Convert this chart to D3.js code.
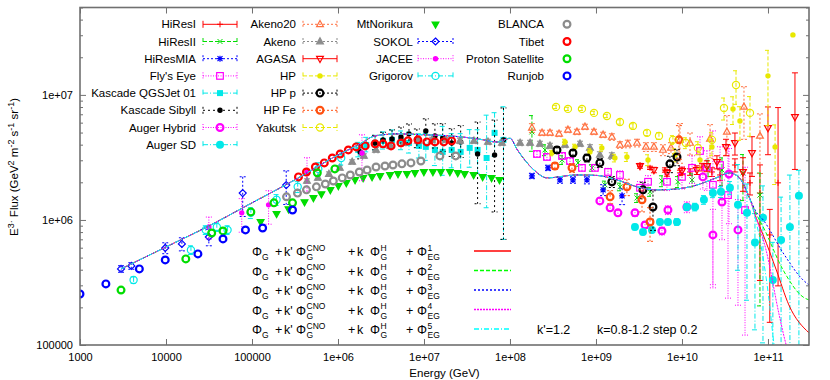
<!DOCTYPE html>
<html>
<head>
<meta charset="utf-8">
<script src="https://cdn.jsdelivr.net/npm/d3@7"></script>
<style>
body{margin:0;background:#fff;}
text{font-family:"Liberation Sans",Arial,Helvetica,sans-serif;fill:#000;}
</style>
</head>
<body>
<div id="chart"></div>
<script>
// axis ticks
const xTicks = [1e3, 1e4, 1e5, 1e6, 1e7, 1e8, 1e9, 1e10, 1e11];
const xTickLabels = ["1000", "10000", "100000", "1e+06", "1e+07", "1e+08", "1e+09", "1e+10", "1e+11"];
const yTicks = [1e5, 1e6, 1e7];
const yTickLabels = ["100000", "1e+06", "1e+07"];

// ---- experimental data (E in GeV, E^3 flux) ----
const hiresIEnergy = [3.25e9, 4.25e9, 6.34e9, 9.48e9, 1.24e10, 1.71e10, 2.23e10, 2.77e10, 4.13e10, 6.18e10, 8.07e10, 1.05e11, 1.31e11];
const hiresIFlux = [2.75e6, 2.61e6, 2.51e6, 2.38e6, 2.42e6, 2.65e6, 2.42e6, 2.29e6, 2.75e6, 1.98e6, 1.64e6, 7.59e5, 1.98e6];
const hiresIUp = [.03, .03, .04, .05, .06, .07, .08, .1, .12, .2, .68, .6, 3.0];
const hiresIDn = [.03, .03, .04, .05, .06, .07, .08, .1, .12, .2, .8, .8, .85];

const hiresIIEnergy = [1.80e8, 2.55e8, 4.03e8, 6.18e8, 8.98e8, 1.27e9, 1.90e9, 3.00e9, 4.25e9, 5.85e9, 8.98e9, 1.31e10, 2.01e10, 2.92e10, 5.12e10, 8.07e10];
const hiresIIFlux = [5.06e6, 3.63e6, 3.02e6, 2.86e6, 2.61e6, 1.91e6, 1.84e6, 1.50e6, 1.68e6, 2.05e6, 2.02e6, 2.09e6, 2.61e6, 2.51e6, 2.38e6, 1.58e6];
const hiresIIUp = [.35, .1, .08, .06, .06, .07, .07, .08, .08, .1, .1, .12, .15, .25, .4, .5];
const hiresIIDn = [.3, .1, .08, .06, .06, .07, .07, .08, .08, .1, .1, .12, .15, .25, .4, .87];

const hiresMiaEnergy = [1.80e8, 2.77e8, 3.81e8, 5.40e8, 7.85e8, 1.21e9, 2.01e9];
const hiresMiaFlux = [2.25e6, 2.61e6, 2.09e6, 2.09e6, 2.09e6, 1.74e6, 1.56e6];
const hiresMiaErr = [.05, .05, .06, .06, .07, .1, .15];

const flysEyeEnergy = [2.06e8, 2.69e8, 4.03e8, 4.99e8, 6.87e8, 9.73e8, 1.38e9, 1.90e9, 3.25e9, 4.03e9, 6.69e9, 1.0e10, 1.31e10, 1.62e10, 1.95e10, 2.29e10, 2.77e10, 3.43e10, 5.41e10];
const flysEyeFlux = [3.37e6, 3.19e6, 3.25e6, 2.96e6, 2.61e6, 2.61e6, 2.42e6, 2.29e6, 1.81e6, 2.02e6, 2.02e6, 2.21e6, 2.61e6, 3.56e6, 2.65e6, 1.91e6, 2.75e6, 1.58e6, 1.20e6];
const flysEyeUp = [.05, .05, .05, .05, .06, .06, .07, .08, .12, .12, .15, .2, .25, .3, .35, 1.7, .4, 1.5, 1.2];
const flysEyeDn = [.05, .05, .05, .05, .06, .06, .07, .08, .12, .12, .15, .2, .25, .3, .35, .85, .4, .85, .9];

const qgsjetEnergy = [1.72e6, 2.13e6, 2.70e6, 3.34e6, 4.25e6, 5.40e6, 6.69e6, 8.73e6, 1.05e7, 1.34e7, 1.65e7, 2.10e7, 2.67e7, 3.40e7, 4.2e7, 5.35e7, 6.62e7, 8.4e7];
const qgsjetFlux = [3.63e6, 3.98e6, 4.13e6, 4.29e6, 4.37e6, 4.29e6, 4.13e6, 3.91e6, 3.84e6, 3.63e6, 3.50e6, 3.63e6, 3.50e6, 3.77e6, 3.63e6, 3.13e6, 4.97e6, 4.37e6];
const qgsjetUp = [.15, .15, .15, .18, .2, .2, .22, .25, .28, .3, .6, .35, .4, .4, .45, 1.2, .45, .84];
const qgsjetDn = [.12, .12, .12, .14, .15, .15, .17, .2, .22, .25, .35, .28, .3, .3, .35, .6, .35, .84];

const sibyllEnergy = [1.81e6, 2.70e6, 3.34e6, 4.25e6, 5.40e6, 6.69e6, 8.27e6, 1.05e7, 1.34e7, 1.65e7, 2.10e7, 2.67e7, 4.2e7, 6.62e7, 8.4e7];
const sibyllFlux = [3.50e6, 4.13e6, 4.37e6, 4.45e6, 4.61e6, 4.88e6, 4.45e6, 5.15e6, 4.70e6, 4.53e6, 4.13e6, 4.21e6, 3.37e6, 3.31e6, 4.37e6];
const sibyllUp = [.15, .15, .15, .18, .2, .2, .2, .25, .25, .3, .3, .35, .8, .9, .8];
const sibyllDn = [.12, .12, .12, .14, .15, .15, .15, .2, .2, .22, .22, .25, .6, .65, .84];

const augerHybridEnergy = [1.11e9, 1.46e9, 1.80e9, 2.84e9, 3.72e9, 5.85e9, 6.87e9, 1.14e10, 1.75e10, 2.29e10, 2.92e10, 3.52e10, 4.48e10];
const augerHybridFlux = [1.42e6, 1.25e6, 1.14e6, 1.14e6, 9.12e5, 8.17e5, 1.20e6, 1.27e6, 2.21e6, 7.59e5, 1.39e6, 2.33e6, 8.32e5];
const augerHybridErr = [.05, .05, .05, .06, .06, .07, .08, .1, .2, .6, .5, .6, .75];

const augerSdEnergy = [2.84e9, 3.52e9, 4.48e9, 5.55e9, 6.87e9, 8.75e9, 1.14e10, 1.42e10, 1.80e10, 2.29e10, 2.84e10, 3.61e10, 4.48e10, 5.70e10, 7.06e10, 8.75e10, 1.14e11, 1.42e11, 1.80e11, 2.29e11];
const augerSdFlux = [8.79e5, 8.02e5, 8.32e5, 9.64e5, 9.64e5, 9.64e5, 1.27e6, 1.27e6, 1.45e6, 1.64e6, 1.68e6, 1.81e6, 1.32e6, 1.14e6, 6.61e5, 1.04e6, 3.31e5, 6.92e5, 8.79e5, 1.56e6];
const augerSdUp = [.05, .05, .05, .05, .05, .06, .06, .07, .08, .08, .1, .12, 1.1, .7, .7, .8, 1.0, 1.2, 1.6, .6];
const augerSdDn = [.05, .05, .05, .05, .05, .06, .06, .07, .08, .08, .1, .12, .7, .8, .8, .9, 1, 1, 1, 1];

const akeno20Energy = [1.80e8, 2.36e8, 2.92e8, 3.72e8, 4.72e8, 6.01e8, 7.45e8, 9.48e8, 1.21e9, 1.53e9, 1.90e9, 2.35e9, 3.00e9, 3.81e9, 4.72e9, 6.01e9, 7.45e9, 9.48e9, 1.24e10, 2.12e10, 3.33e10, 5.26e10, 8.07e10];
const akeno20Flux = [5.45e6, 4.97e6, 4.97e6, 4.88e6, 5.25e6, 5.06e6, 5.55e6, 5.06e6, 4.79e6, 4.61e6, 3.98e6, 4.06e6, 4.13e6, 3.84e6, 3.84e6, 3.63e6, 3.77e6, 4.37e6, 4.13e6, 4.45e6, 5.06e6, 8.02e6, 4.70e6];
const akeno20Err = [.08, .05, .05, .05, .05, .05, .05, .05, .05, .06, .06, .07, .07, .08, .08, .1, .1, .35, .2, .3, .35, .45, .5];

const akenoEnergy = [4.36e5, 5.85e5, 7.85e5, 1.05e6, 1.46e6, 2.0e6, 2.77e6, 4.03e6, 5.85e6, 8.51e6, 1.24e7, 1.80e7, 2.62e7, 3.81e7, 5.55e7, 8.07e7, 1.31e8, 1.71e8, 2.23e8, 2.92e8, 4.36e8, 6.52e8, 8.51e8, 1.11e9, 1.53e9];
const akenoFlux = [2.05e6, 2.17e6, 2.33e6, 2.61e6, 2.91e6, 3.25e6, 3.63e6, 3.91e6, 4.13e6, 4.29e6, 4.37e6, 4.37e6, 4.29e6, 4.29e6, 4.21e6, 4.13e6, 4.13e6, 4.13e6, 4.06e6, 3.91e6, 3.98e6, 4.06e6, 3.77e6, 3.31e6, 3.25e6];
const akenoErr = [.04, .04, .04, .04, .04, .04, .05, .05, .05, .05, .05, .05, .05, .05, .05, .05, .05, .05, .05, .05, .05, .05, .06, .06, .06];

const agasaEnergy = [3.25e9, 4.72e9, 6.69e9, 1.0e10, 1.49e10, 1.95e10, 2.55e10, 3.25e10, 4.13e10, 5.12e10, 6.52e10, 1.0e11, 2.06e11];
const agasaFlux = [2.70e6, 2.51e6, 2.38e6, 2.47e6, 2.51e6, 2.70e6, 2.91e6, 3.84e6, 4.13e6, 2.42e6, 3.43e6, 5.45e6, 6.67e6];
const agasaUp = [.04, .05, .06, .07, .08, .1, .12, .15, .2, .3, .35, .47, 1.25];
const agasaDn = [.04, .05, .06, .07, .08, .1, .12, .15, .2, .3, .35, .39, .62];

const hpEnergy = [3.08e8, 4.36e8, 5.70e8, 8.51e8, 1.17e9, 1.66e9, 2.29e9, 4.03e9, 8.29e9, 1.62e10, 2.23e10, 3.92e10, 4.72e10, 1.0e11, 1.21e11, 1.95e11];
const hpFlux = [3.43e6, 4.21e6, 3.84e6, 3.50e6, 3.77e6, 3.13e6, 3.19e6, 3.02e6, 3.31e6, 3.02e6, 3.84e6, 7.73e6, 6.19e6, 1.42e7, 3.84e6, 3.02e7];
const hpErr = [.05, .05, .05, .06, .06, .07, .08, .1, .12, .15, .15, .25, .3, .6, .5, 0];

const hpProtonEnergy = [3.52e8, 5.40e8, 7.85e8, 1.11e9, 1.53e9, 3.52e9, 4.60e9, 7.24e9, 8.75e9];
const hpProtonFlux = [3.63e6, 3.43e6, 3.13e6, 2.86e6, 2.02e6, 1.74e6, 1.27e6, 2.81e6, 3.19e6];
const hpProtonErr = [.06, .06, .07, .08, .1, .15, .35, .15, .15];

const hpIronEnergy = [3.33e8, 5.26e8, 1.46e9, 2.29e9, 3.43e9, 4.25e9, 9.22e9];
const hpIronFlux = [2.70e6, 2.61e6, 1.53e6, 1.84e6, 1.45e6, 9.64e5, 4.37e6];
const hpIronErr = [.06, .08, .12, .15, .2, .3, .3];

const yakutskEnergy = [3.43e8, 4.72e8, 6.87e8, 9.48e8, 1.34e9, 1.90e9, 2.69e9, 3.92e9, 5.40e9, 7.85e9, 1.11e10, 1.53e10, 2.23e10, 3.08e10, 4.25e10, 6.18e10];
const yakutskFlux = [8.02e6, 7.73e6, 7.73e6, 7.18e6, 6.79e6, 6.08e6, 5.65e6, 4.97e6, 4.70e6, 4.37e6, 4.13e6, 3.77e6, 4.37e6, 7.87e6, 1.20e7, 7.18e6];
const yakutskErr = [.03, .03, .03, .03, .03, .04, .04, .05, .06, .08, .1, .12, .15, .2, .3, .35];

const norikuraEnergy = [1.26e5, 1.93e5, 2.66e5, 4.08e5, 5.18e5, 6.41e5, 8.15e5, 1.01e6, 1.25e6, 1.58e6, 1.96e6, 2.49e6, 3.09e6, 4.03e6, 4.99e6, 6.34e6, 7.85e6, 9.97e6, 1.27e7, 1.57e7, 2.0e7, 2.47e7, 2.97e7, 3.78e7, 4.81e7, 6.11e7, 7.55e7];
const norikuraFlux = [9.64e5, 1.12e6, 1.22e6, 1.39e6, 1.5e6, 1.61e6, 1.74e6, 1.87e6, 1.98e6, 2.09e6, 2.17e6, 2.21e6, 2.25e6, 2.29e6, 2.33e6, 2.33e6, 2.38e6, 2.42e6, 2.42e6, 2.42e6, 2.42e6, 2.38e6, 2.33e6, 2.29e6, 2.21e6, 2.17e6, 2.09e6];

const sokolEnergy = [3e3, 3.95e3, 9.8e3, 1.53e4, 3.15e4, 7.8e4, 2.5e5];
const sokolFlux = [4.06e5, 4.29e5, 5.97e5, 6.43e5, 7.31e5, 1.64e6, 1.9e6];
const sokolErr = [.06, .06, .1, .12, .15, .35, .3];

const jaceeEnergy = [3.15e4, 7.6e4, 1.56e5, 4.36e5, 1.9e6];
const jaceeFlux = [8.79e5, 1.14e6, 1.32e6, 2.42e6, 3.43e6];
const jaceeErr = [.2, .3, .3, .3, .4];

const grigorovEnergy = [4.2e3, 1.95e4, 2.9e4, 3.9e4, 5.2e4, 9.7e4, 1.93e5, 3.4e5, 5.9e5, 1.09e6];
const grigorovFlux = [3.31e5, 5.75e5, 8.32e5, 8.79e5, 8.32e5, 1.14e6, 1.45e6, 1.84e6, 2.56e6, 3.13e6];
const grigorovErr = [.06, .08, .08, .08, .08, .1, .1, .1, .12, .12];

const blancaEnergy = [2.52e5, 3.38e5, 4.30e5, 5.61e5, 7.13e5, 8.83e5, 1.12e6, 1.39e6, 1.77e6, 2.18e6, 2.77e6, 3.52e6, 4.36e6, 5.54e6, 7.05e6, 9.2e6, 1.53e7, 2.34e7];
const blancaFlux = [1.53e6, 1.64e6, 1.74e6, 1.84e6, 1.94e6, 2.05e6, 2.17e6, 2.29e6, 2.42e6, 2.51e6, 2.65e6, 2.70e6, 2.75e6, 2.81e6, 2.86e6, 2.96e6, 3.25e6, 3.25e6];

const tibetEnergy = [3.47e5, 4.3e5, 5.46e5, 6.93e5, 8.59e5, 1.06e6, 1.32e6, 1.63e6, 2.07e6, 2.70e6, 3.34e6, 4.14e6, 5.40e6, 6.51e6, 8.5e6, 1.08e7, 1.34e7, 1.70e7, 2.10e7];
const tibetFlux = [2.21e6, 2.42e6, 2.65e6, 2.86e6, 3.13e6, 3.37e6, 3.63e6, 3.84e6, 3.91e6, 4.06e6, 4.06e6, 3.91e6, 4.13e6, 4.29e6, 4.37e6, 4.21e6, 4.21e6, 4.21e6, 4.29e6];

const protonSatEnergy = [3.0e3, 1.7e4, 3.4e4, 4.6e4, 9.7e4, 1.8e5, 2.96e5, 5.75e5, 9.2e5];
const protonSatFlux = [2.75e5, 4.88e5, 7.87e5, 8.17e5, 1.16e6, 1.37e6, 1.37e6, 2.38e6, 2.56e6];

const runjobEnergy = [1e3, 2.0e3, 4.9e3, 9.8e3, 2.35e4, 4.6e4, 8.4e4, 1.33e5, 2.96e5];
const runjobFlux = [2.56e5, 3.08e5, 4.06e5, 4.79e5, 5.35e5, 7.05e5, 8.32e5, 8.63e5, 1.2e6];

// ---- model curves: common part, then the five tails ----
const modelEnergy = [3.0e3, 1e4, 3.15e4, 1e5, 3.47e5, 1e6, 1.72e6, 2.7e6, 5.0e6, 1e7, 2e7, 4.2e7, 7.2e7, 1e8, 1.22e8, 1.9e8, 2.7e8, 6.0e8, 1.02e9, 1.76e9, 3.0e9, 5.1e9, 8.7e9, 1.48e10, 2.5e10, 3.56e10, 4.66e10, 6.1e10];
const modelFlux = [4.06e5, 6.08e5, 8.95e5, 1.37e6, 2.17e6, 3.31e6, 3.98e6, 4.7e6, 4.88e6, 4.8e6, 4.7e6, 4.45e6, 4.2e6, 4.5e6, 3.63e6, 2.51e6, 2.17e6, 2.29e6, 2.27e6, 2.09e6, 1.84e6, 1.74e6, 1.77e6, 1.9e6, 2.17e6, 2.38e6, 2.17e6, 1.5e6];
const tail1Energy = [7.3e10, 8.8e10, 1.25e11, 1.75e11, 3e11];
const tail1Flux = [1.04e6, 7.59e5, 3.98e5, 2.09e5, 1.25e5];
const tail2Energy = [7.3e10, 8.8e10, 1.5e11, 2.56e11, 3e11];
const tail2Flux = [1.12e6, 8.79e5, 3.98e5, 2.42e5, 2.29e5];
const tail3Energy = [7.3e10, 8.8e10, 1.5e11, 2.56e11, 3e11];
const tail3Flux = [1.16e6, 1.0e6, 5.45e5, 3.31e5, 3.02e5];
const tail4Energy = [7.3e10, 9.5e10, 1.35e11, 1.63e11, 1.86e11];
const tail4Flux = [1.04e6, 5.75e5, 1.74e5, 1.0e5, 7.6e4];
const tail5Energy = [7.3e10, 1.03e11, 1.18e11, 1.32e11];
const tail5Flux = [9.64e5, 2.29e5, 1.0e5, 6.9e4];
const modelSuffix = ["1", "2", "3", "4", "5"];

// ---- styles ----
const RED = "#ff0000", GREEN = "#00dd00", BLUE = "#0000ff", MAGENTA = "#ff00ff", CYAN = "#00e8e8";
const YELLOW = "#e8e800", GRAY = "#8c8c8c", CORAL = "#ff7040", ORANGE = "#ff5010";
const SOLID = null, DASH = "4,2", DOT = "2,2", FINE = "1,1.5", DASHDOT = "5,2,1,2", SPARSE = "2,3";

const series = [
    {name: "HiResI", E: hiresIEnergy, F: hiresIFlux, up: hiresIUp, dn: hiresIDn, color: RED, dash: SOLID, mark: "plus", col: 0},
    {name: "HiResII", E: hiresIIEnergy, F: hiresIIFlux, up: hiresIIUp, dn: hiresIIDn, color: GREEN, dash: DASH, mark: "cross", col: 0},
    {name: "HiResMIA", E: hiresMiaEnergy, F: hiresMiaFlux, up: hiresMiaErr, dn: hiresMiaErr, color: BLUE, dash: DOT, mark: "star", col: 0},
    {name: "Fly's Eye", E: flysEyeEnergy, F: flysEyeFlux, up: flysEyeUp, dn: flysEyeDn, color: MAGENTA, dash: FINE, mark: "square", col: 0},
    {name: "Kascade QGSJet 01", E: qgsjetEnergy, F: qgsjetFlux, up: qgsjetUp, dn: qgsjetDn, color: CYAN, dash: DASHDOT, mark: "squareF", col: 0},
    {name: "Kascade Sibyll", E: sibyllEnergy, F: sibyllFlux, up: sibyllUp, dn: sibyllDn, color: "#000", dash: SPARSE, mark: "dot", col: 0},
    {name: "Auger Hybrid", E: augerHybridEnergy, F: augerHybridFlux, up: augerHybridErr, dn: augerHybridErr, color: MAGENTA, dash: FINE, mark: "ring", col: 0},
    {name: "Auger SD", E: augerSdEnergy, F: augerSdFlux, up: augerSdUp, dn: augerSdDn, color: CYAN, dash: DASHDOT, mark: "disc", col: 0},
    {name: "Akeno20", E: akeno20Energy, F: akeno20Flux, up: akeno20Err, dn: akeno20Err, color: CORAL, dash: DOT, mark: "tri", col: 1},
    {name: "Akeno", E: akenoEnergy, F: akenoFlux, up: akenoErr, dn: akenoErr, color: GRAY, dash: DOT, mark: "triF", col: 1},
    {name: "AGASA", E: agasaEnergy, F: agasaFlux, up: agasaUp, dn: agasaDn, color: RED, dash: SOLID, mark: "itri", col: 1},
    {name: "HP", E: hpEnergy, F: hpFlux, up: hpErr, dn: hpErr, color: YELLOW, dash: DASH, mark: "dot", col: 1},
    {name: "HP p", E: hpProtonEnergy, F: hpProtonFlux, up: hpProtonErr, dn: hpProtonErr, color: "#000", dash: DOT, mark: "ring", col: 1},
    {name: "HP Fe", E: hpIronEnergy, F: hpIronFlux, up: hpIronErr, dn: hpIronErr, color: ORANGE, dash: DOT, mark: "ring", col: 1},
    {name: "Yakutsk", E: yakutskEnergy, F: yakutskFlux, up: yakutskErr, dn: yakutskErr, color: YELLOW, dash: DASH, mark: "circle", col: 1},
    {name: "MtNorikura", E: norikuraEnergy, F: norikuraFlux, color: GREEN, mark: "itriF", col: 2},
    {name: "SOKOL", E: sokolEnergy, F: sokolFlux, up: sokolErr, dn: sokolErr, color: BLUE, dash: DOT, mark: "diamond", col: 2},
    {name: "JACEE", E: jaceeEnergy, F: jaceeFlux, up: jaceeErr, dn: jaceeErr, color: MAGENTA, dash: FINE, mark: "dot", col: 2},
    {name: "Grigorov", E: grigorovEnergy, F: grigorovFlux, up: grigorovErr, dn: grigorovErr, color: CYAN, dash: DASHDOT, mark: "circle", col: 2},
    {name: "BLANCA", E: blancaEnergy, F: blancaFlux, color: GRAY, mark: "ring", col: 3},
    {name: "Tibet", E: tibetEnergy, F: tibetFlux, color: RED, mark: "ring", col: 3},
    {name: "Proton Satellite", E: protonSatEnergy, F: protonSatFlux, color: GREEN, mark: "ring", col: 3},
    {name: "Runjob", E: runjobEnergy, F: runjobFlux, color: BLUE, mark: "ring", col: 3}
];

const models = [
    {E: modelEnergy.concat(tail1Energy), F: modelFlux.concat(tail1Flux), color: "#ff0000", dash: null},
    {E: modelEnergy.concat(tail2Energy), F: modelFlux.concat(tail2Flux), color: "#00ff00", dash: "4,2"},
    {E: modelEnergy.concat(tail3Energy), F: modelFlux.concat(tail3Flux), color: "#0000ff", dash: "2,2"},
    {E: modelEnergy.concat(tail4Energy), F: modelFlux.concat(tail4Flux), color: "#ff00ff", dash: "2,1"},
    {E: modelEnergy.concat(tail5Energy), F: modelFlux.concat(tail5Flux), color: "#00ffff", dash: "5,2,1,2"}
];

// ---- chart ----
const width = 830, height = 380;
const plot = {left: 80, right: 809, top: 7.5, bottom: 345};
const axisColor = "#707070";

const svg = d3.select("#chart").append("svg")
    .attr("width", width)
    .attr("height", height);

const xScale = d3.scaleLog().domain([1e3, 3e11]).range([plot.left, plot.right]);
const yScale = d3.scaleLog().domain([1e5, 5e7]).range([plot.bottom, plot.top]);

svg.append("defs").append("clipPath").attr("id", "plotClip")
    .append("rect")
    .attr("x", plot.left).attr("y", plot.top)
    .attr("width", plot.right - plot.left).attr("height", plot.bottom - plot.top);

// minor tick positions on the log y axis
const yMinor = [];
[1e5, 1e6, 1e7].forEach(d => { for (let k = 2; k <= 9; k++) if (d * k <= 5e7) yMinor.push(d * k); });

function styleAxis(g) {
    g.select(".domain").remove();
    g.selectAll(".tick line").attr("stroke", axisColor);
    g.selectAll(".tick text")
        .attr("font-family", "Liberation Sans, Arial, sans-serif")
        .attr("font-size", 11)
        .attr("fill", "#000");
}

svg.append("g").attr("class", "xAxisG")
    .attr("transform", "translate(0," + plot.bottom + ")")
    .call(d3.axisBottom(xScale).tickValues(xTicks).tickFormat((d, i) => xTickLabels[i])
        .tickSize(-6).tickSizeOuter(0).tickPadding(8))
    .call(styleAxis);
svg.append("g")
    .attr("transform", "translate(0," + plot.top + ")")
    .call(d3.axisTop(xScale).tickValues(xTicks).tickFormat("").tickSize(-6).tickSizeOuter(0))
    .call(styleAxis);
svg.append("g").attr("class", "yAxisG")
    .attr("transform", "translate(" + plot.left + ",0)")
    .call(d3.axisLeft(yScale).tickValues(yTicks).tickFormat((d, i) => yTickLabels[i])
        .tickSize(-6).tickSizeOuter(0).tickPadding(7))
    .call(styleAxis);
svg.append("g")
    .attr("transform", "translate(" + plot.left + ",0)")
    .call(d3.axisLeft(yScale).tickValues(yMinor).tickFormat("").tickSize(-3).tickSizeOuter(0))
    .call(styleAxis);
svg.append("g")
    .attr("transform", "translate(" + plot.right + ",0)")
    .call(d3.axisRight(yScale).tickValues(yTicks).tickFormat("").tickSize(-6).tickSizeOuter(0))
    .call(styleAxis);
svg.append("g")
    .attr("transform", "translate(" + plot.right + ",0)")
    .call(d3.axisRight(yScale).tickValues(yMinor).tickFormat("").tickSize(-3).tickSizeOuter(0))
    .call(styleAxis);

// axis titles
svg.append("text")
    .attr("x", (plot.left + plot.right) / 2).attr("y", 377)
    .attr("text-anchor", "middle").attr("font-size", 11.5)
    .text("Energy (GeV)");

const yLab = svg.append("text")
    .attr("transform", "translate(18,167) rotate(-90)")
    .attr("text-anchor", "middle").attr("font-size", 11.5);
[["E", 0], ["3·", 1], [" Flux (GeV", 0], ["2", 1], [" m", 0], ["-2", 1], [" s", 0], ["-1", 1], [" sr", 0], ["-1", 1], [")", 0]]
    .reduce((prev, [txt, sup]) => {
        yLab.append("tspan")
            .attr("dy", sup === prev ? 0 : (sup ? -4.5 : 4.5))
            .attr("font-size", sup ? 9 : 11.5)
            .text(txt);
        return sup;
    }, 0);

// ---- markers ----
function drawMark(g, type, color, cx, cy) {
    switch (type) {
        case "plus":
            g.append("path").attr("d", `M${cx - 3},${cy}H${cx + 3}M${cx},${cy - 3}V${cy + 3}`)
                .attr("stroke", color).attr("fill", "none");
            break;
        case "cross":
            g.append("path").attr("d", `M${cx - 2.5},${cy - 2.5}l5,5M${cx - 2.5},${cy + 2.5}l5,-5`)
                .attr("stroke", color).attr("fill", "none");
            break;
        case "star":
            g.append("path").attr("d", `M${cx - 3},${cy}H${cx + 3}M${cx},${cy - 3}V${cy + 3}M${cx - 2.5},${cy - 2.5}l5,5M${cx - 2.5},${cy + 2.5}l5,-5`)
                .attr("stroke", color).attr("stroke-width", 1.2).attr("fill", "none");
            break;
        case "square":
            g.append("rect").attr("x", cx - 3.3).attr("y", cy - 3.3).attr("width", 6.6).attr("height", 6.6)
                .attr("stroke", color).attr("stroke-width", 1.2).attr("fill", "none");
            break;
        case "squareF":
            g.append("rect").attr("x", cx - 3).attr("y", cy - 3).attr("width", 6).attr("height", 6)
                .attr("fill", color);
            break;
        case "dot":
            g.append("circle").attr("cx", cx).attr("cy", cy).attr("r", 2.7).attr("fill", color);
            break;
        case "ring":
            g.append("circle").attr("cx", cx).attr("cy", cy).attr("r", 3.4)
                .attr("stroke", color).attr("stroke-width", 2.2).attr("fill", "none");
            break;
        case "disc":
            g.append("circle").attr("cx", cx).attr("cy", cy).attr("r", 4).attr("fill", color);
            break;
        case "circle":
            g.append("circle").attr("cx", cx).attr("cy", cy).attr("r", 3.6)
                .attr("stroke", color).attr("stroke-width", 1.2).attr("fill", "none");
            break;
        case "tri":
        case "triF":
            g.append("path").attr("d", `M${cx},${cy - 3.8}L${cx + 3.4},${cy + 2.3}L${cx - 3.4},${cy + 2.3}Z`)
                .attr("stroke", color).attr("stroke-width", 1.2)
                .attr("fill", type === "triF" ? color : "none");
            break;
        case "itri":
        case "itriF":
            g.append("path").attr("d", `M${cx},${cy + 3.8}L${cx + 3.4},${cy - 2.3}L${cx - 3.4},${cy - 2.3}Z`)
                .attr("stroke", color).attr("stroke-width", 1.2)
                .attr("fill", type === "itriF" ? color : "none");
            break;
        case "diamond":
            g.append("path").attr("d", `M${cx},${cy - 3.5}L${cx + 3.5},${cy}L${cx},${cy + 3.5}L${cx - 3.5},${cy}Z`)
                .attr("stroke", color).attr("stroke-width", 1.2).attr("fill", "none");
            break;
    }
}

// ---- data ----
const dataG = svg.append("g").attr("clip-path", "url(#plotClip)");

series.forEach(s => {
    const g = dataG.append("g").attr("class", "seriesG");
    if (s.up) {
        s.E.forEach((e, i) => {
            if (!s.up[i]) return;
            const f = s.F[i];
            const px = xScale(e);
            const yHi = yScale(f * (1 + s.up[i]));
            const lo = f * (1 - s.dn[i]);
            const yLo = lo > 0 ? yScale(lo) : plot.bottom + 10;
            g.append("path")
                .attr("d", `M${px},${yHi}V${yLo}M${px - 3},${yHi}H${px + 3}M${px - 3},${yLo}H${px + 3}`)
                .attr("stroke", s.color).attr("fill", "none")
                .attr("stroke-dasharray", s.dash);
        });
    }
    s.E.forEach((e, i) => drawMark(g, s.mark, s.color, xScale(e), yScale(s.F[i])));
});

const line = d3.line()
    .x(d => xScale(d[0]))
    .y(d => yScale(d[1]))
    .curve(d3.curveMonotoneX);

models.forEach(m => {
    dataG.append("path")
        .datum(m.E.map((e, i) => [e, m.F[i]]))
        .attr("d", line)
        .attr("fill", "none")
        .attr("stroke", m.color)
        .attr("stroke-width", 1)
        .attr("stroke-dasharray", m.dash);
});

// border
svg.append("rect")
    .attr("x", plot.left).attr("y", plot.top)
    .attr("width", plot.right - plot.left).attr("height", plot.bottom - plot.top)
    .attr("fill", "none").attr("stroke", axisColor).attr("stroke-width", 1.6);

// ---- legend ----
const legendCols = [
    {textX: 196, x0: 203, x1: 237},
    {textX: 296, x0: 303, x1: 337},
    {textX: 413, x0: 418, x1: 453},
    {textX: 544, x0: 550, x1: 584}
];
const legendG = svg.append("g").attr("class", "legendG");
const rowCount = [0, 0, 0, 0];
series.forEach(s => {
    const c = legendCols[s.col];
    const yc = 24.3 + 17.2 * rowCount[s.col]++;
    legendG.append("text")
        .attr("x", c.textX).attr("y", yc + 4)
        .attr("text-anchor", "end").attr("font-size", 11.5)
        .text(s.name);
    if (s.up) {
        legendG.append("path")
            .attr("d", `M${c.x0},${yc}H${c.x1}M${c.x0},${yc - 3.5}V${yc + 3.5}M${c.x1},${yc - 3.5}V${yc + 3.5}`)
            .attr("stroke", s.color).attr("fill", "none")
            .attr("stroke-dasharray", s.dash);
    }
    drawMark(legendG, s.mark, s.color, (c.x0 + c.x1) / 2, yc);
});

// model key: main symbols, with stacked super/subscripts
const rowY = [251, 270.5, 290, 309.5, 329];
models.forEach((m, i) => {
    const yc = rowY[i];
    const base = yc + 5, sup = yc - 0.5, sub = yc + 9.2;
    const pieces = [
        ["Φ", 252, base, 12.5], ["G", 262, sub, 8.5],
        ["+", 275, base, 12.5], ["k'", 284, base, 12.5], ["Φ", 296, base, 12.5],
        ["CNO", 306.5, sup, 8.5], ["G", 306.5, sub, 8.5],
        ["+", 348, base, 12.5], ["k", 357, base, 12.5], ["Φ", 370, base, 12.5],
        ["H", 380.5, sup, 8.5], ["G", 380.5, sub, 8.5],
        ["+", 406, base, 12.5], ["Φ", 417, base, 12.5],
        [modelSuffix[i], 427.5, sup, 8.5], ["EG", 427.5, sub, 8.5]
    ];
    pieces.forEach(([txt, px, py, size]) => {
        legendG.append("text").attr("x", px).attr("y", py).attr("font-size", size).text(txt);
    });
    legendG.append("line")
        .attr("x1", 474).attr("x2", 511).attr("y1", yc).attr("y2", yc)
        .attr("stroke", m.color).attr("stroke-width", 1.3)
        .attr("stroke-dasharray", m.dash);
});

svg.append("text").attr("x", 537).attr("y", 333.5).attr("font-size", 12.5).text("k'=1.2");
svg.append("text").attr("x", 597).attr("y", 333.5).attr("font-size", 12.5).text("k=0.8-1.2 step 0.2");
</script>
</body>
</html>
